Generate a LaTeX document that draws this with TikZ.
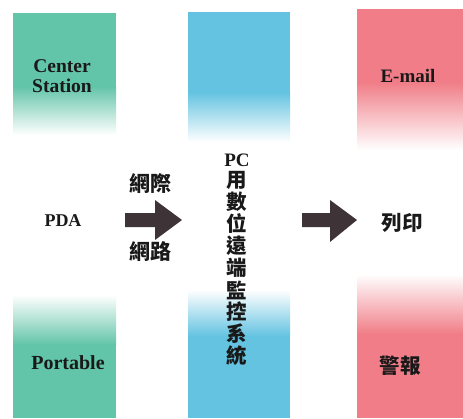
\documentclass[tikz,border=0pt]{standalone}
\usepackage{fontspec}
\setmainfont{Liberation Serif}
\newfontfamily\cjk{Noto Sans CJK TC}
\definecolor{tealband}{RGB}{98,196,168}
\definecolor{blueband}{RGB}{100,195,225}
\definecolor{redband}{RGB}{240,125,135}
\definecolor{arrowcol}{RGB}{62,52,56}
\begin{document}
\begin{tikzpicture}[x=1pt,y=-1pt,
  lat/.style={font=\fontsize{19}{21}\selectfont\bfseries, inner sep=0pt, align=center, text=black!90},
  zh/.style={font=\cjk\bfseries\fontsize{20.5}{21}\selectfont, inner sep=0pt, text=black!90},
  blockarrow/.style={fill=arrowcol, draw=none}]
\useasboundingbox (0,0) rectangle (463,418);
\fill[white] (0,0) rectangle (463,418);
% teal column
\fill[tealband] (13,13) rectangle (116,86);
\shade[top color=tealband, bottom color=white] (13,86) rectangle (116,135);
\shade[top color=white, bottom color=tealband] (13,295) rectangle (116,345);
\fill[tealband] (13,345) rectangle (116,418);
% blue column
\fill[blueband] (188,12) rectangle (290,92);
\shade[top color=blueband, bottom color=white] (188,92) rectangle (290,142);
\shade[top color=white, bottom color=blueband] (188,290) rectangle (290,336);
\fill[blueband] (188,336) rectangle (290,418);
% red column
\fill[redband] (357,9) rectangle (463,82);
\shade[top color=redband, bottom color=white] (357,82) rectangle (463,150);
\shade[top color=white, bottom color=redband] (357,274) rectangle (463,334);
\fill[redband] (357,334) rectangle (463,418);
% left texts
\node[lat, font=\fontsize{19.5}{20}\selectfont\bfseries] (cs) at (62,76) {Center\\Station};
\node[lat, font=\fontsize{18}{20}\selectfont\bfseries] (pda) at (63,221) {PDA};
\node[lat, font=\fontsize{20}{20}\selectfont\bfseries] (port) at (68,363) {Portable};
% arrows
\fill[blockarrow] (125,213) -- (155,213) -- (155,200) -- (182,220) -- (155,240) -- (155,227) -- (125,227) -- cycle;
\fill[blockarrow] (302,213) -- (330,213) -- (330,200) -- (357,220) -- (330,242) -- (330,227) -- (302,227) -- cycle;
\node[zh, font=\cjk\bfseries\fontsize{21}{21}\selectfont] (net1) at (150,184) {網際};
\node[zh, font=\cjk\bfseries\fontsize{21}{21}\selectfont] (net2) at (150,252) {網路};
% middle column
\node[lat, font=\fontsize{19}{20}\selectfont\bfseries] (pc) at (237,160) {PC};
\foreach \c [count=\i] in {用,數,位,遠,端,監,控,系,統}
  \node[zh] (v\i) at (237,180+22*\i-22) {\c};
% right texts
\node[lat, font=\fontsize{19}{20}\selectfont\bfseries] (mail) at (408,76) {E-mail};
\node[zh] (print) at (402,223) {列印};
\node[zh] (alarm) at (400,366) {警報};
\end{tikzpicture}
\end{document}
